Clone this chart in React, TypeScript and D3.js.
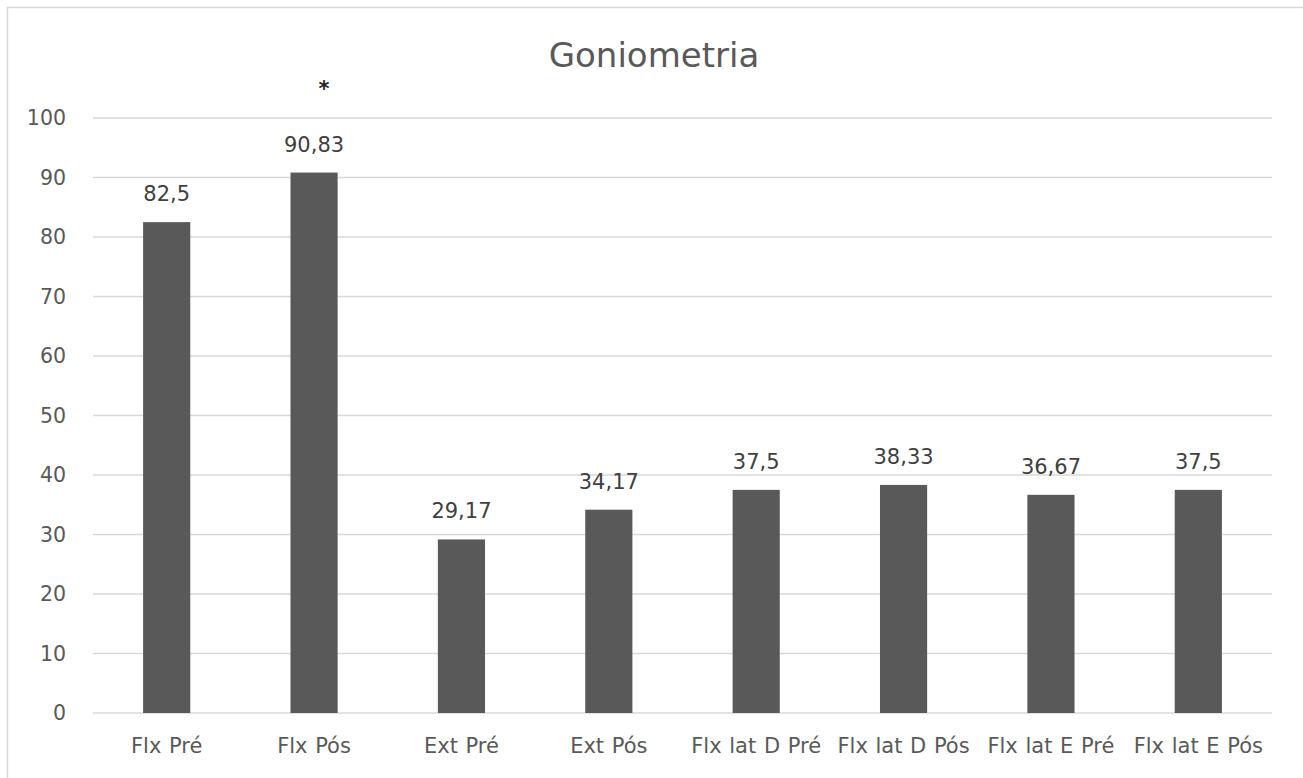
import React from "react";
import * as d3 from "d3";

const categories = ["Flx Pré", "Flx Pós", "Ext Pré", "Ext Pós", "Flx lat D Pré", "Flx lat D Pós", "Flx lat E Pré", "Flx lat E Pós"];
const values = [82.5, 90.83, 29.17, 34.17, 37.5, 38.33, 36.67, 37.5];
const valueLabels = ["82,5", "90,83", "29,17", "34,17", "37,5", "38,33", "36,67", "37,5"];
const marks = ["", "*", "", "", "", "", "", ""];
const yTicks = [0, 10, 20, 30, 40, 50, 60, 70, 80, 90, 100];
const title = "Goniometria";

export default function App() {
  const W = 1303, H = 778;
  const left = 93, right = 1272, top = 118, bottom = 713;
  const x = d3.scaleBand<string>().domain(categories).range([left, right]).paddingInner(0.68).paddingOuter(0.34);
  const y = d3.scaleLinear().domain([0, 100]).range([bottom, top]);
  const font = "'DejaVu Sans', sans-serif";
  const textColor = "#595959";
  return (
    <svg width={W} height={H} style={{ position: "absolute", left: 0, top: 0, background: "#fff" }} fontFamily={font}>
      <rect x={7.5} y={7.5} width={W + 10} height={H + 10} fill="#fff" stroke="#d9d9d9" strokeWidth={1.5} />
      <text x={654} y={67} textAnchor="middle" fontSize={34} fill={textColor}>{title}</text>
      {yTicks.map((t) => (
        <g key={t}>
          <line x1={left} x2={right} y1={y(t)} y2={y(t)} stroke="#d9d9d9" strokeWidth={1.5} />
          <text x={66} y={y(t)} dy="0.36em" textAnchor="end" fontSize={20.5} fill={textColor}>{t}</text>
        </g>
      ))}
      {categories.map((c, i) => {
        const bx = x(c)!;
        const bw = x.bandwidth();
        const cx = bx + bw / 2;
        return (
          <g key={c}>
            <rect x={bx} y={y(values[i])} width={bw} height={bottom - y(values[i])} fill="#595959" />
            <text x={cx} y={y(values[i]) - 21} textAnchor="middle" fontSize={21} fill="#404040">{valueLabels[i]}</text>
            {marks[i] && <text x={cx + 10} y={y(values[i]) - 77} textAnchor="middle" fontSize={21} fontWeight="bold" fill="#262626">{marks[i]}</text>}
            <text x={cx} y={753} textAnchor="middle" fontSize={21} fill={textColor} wordSpacing={1}>{c}</text>
          </g>
        );
      })}
    </svg>
  );
}
